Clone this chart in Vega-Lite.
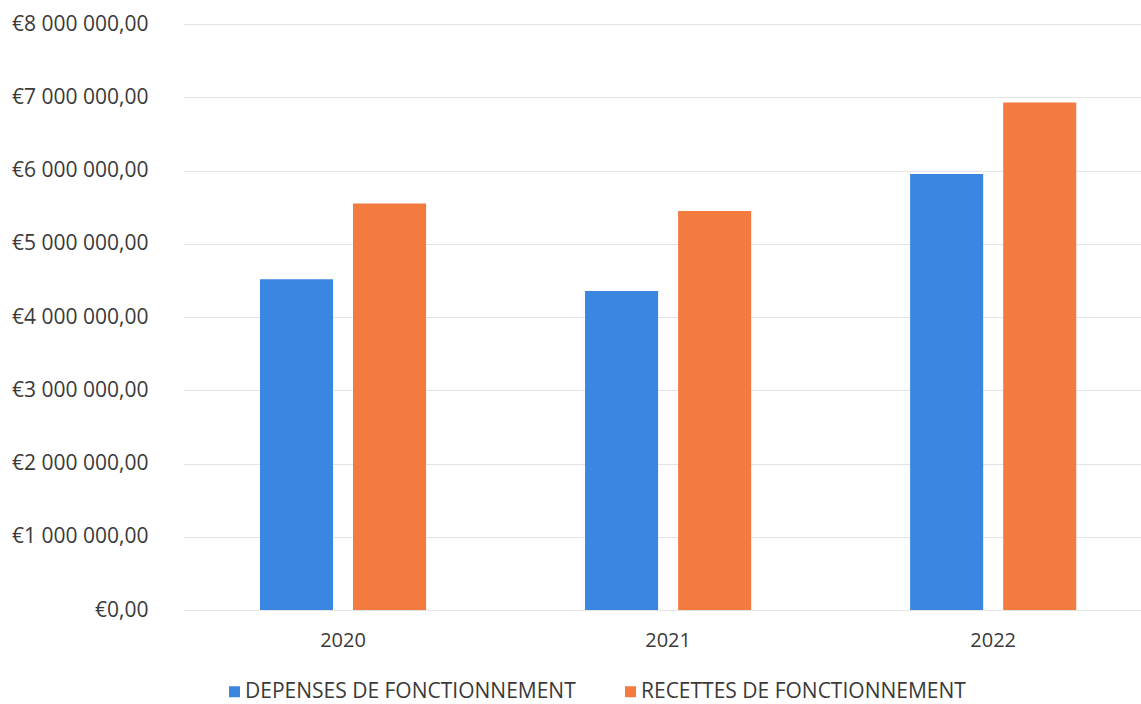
{
  "$schema": "https://vega.github.io/schema/vega-lite/v6.json",
  "width": 958,
  "height": 586,
  "autosize": {"type": "none"},
  "padding": {"left": 183, "top": 24, "right": 0, "bottom": 94},
  "background": "#ffffff",
  "data": {
    "values": [
      {"annee": "2020", "serie": "DEPENSES DE FONCTIONNEMENT", "montant": 4515000},
      {"annee": "2020", "serie": "RECETTES DE FONCTIONNEMENT", "montant": 5550000},
      {"annee": "2021", "serie": "DEPENSES DE FONCTIONNEMENT", "montant": 4355000},
      {"annee": "2021", "serie": "RECETTES DE FONCTIONNEMENT", "montant": 5447000},
      {"annee": "2022", "serie": "DEPENSES DE FONCTIONNEMENT", "montant": 5952000},
      {"annee": "2022", "serie": "RECETTES DE FONCTIONNEMENT", "montant": 6930000}
    ]
  },
  "mark": {"type": "bar"},
  "encoding": {
    "x": {
      "field": "annee",
      "type": "nominal",
      "scale": {"paddingInner": 0.489, "paddingOuter": 0.218, "align": 0.543},
      "axis": {
        "title": null,
        "labelAngle": 0,
        "domain": false,
        "ticks": false,
        "labelPadding": 20,
        "grid": false
      }
    },
    "xOffset": {
      "field": "serie",
      "type": "nominal",
      "scale": {"paddingInner": 0.215, "paddingOuter": 0}
    },
    "y": {
      "field": "montant",
      "type": "quantitative",
      "scale": {"domain": [0, 8000000], "nice": false},
      "axis": {
        "title": null,
        "format": "$,.2f",
        "values": [0, 1000000, 2000000, 3000000, 4000000, 5000000, 6000000, 7000000, 8000000],
        "labelOverlap": false,
        "labelFontSize": 21,
        "domain": false,
        "ticks": false,
        "labelPadding": 35,
        "grid": true,
        "gridColor": "#e4e4e4",
        "gridWidth": 1
      }
    },
    "color": {
      "field": "serie",
      "type": "nominal",
      "scale": {
        "domain": ["DEPENSES DE FONCTIONNEMENT", "RECETTES DE FONCTIONNEMENT"],
        "range": ["#3b86e0", "#f47b40"]
      },
      "legend": {
        "title": null,
        "orient": "none",
        "direction": "horizontal",
        "legendX": 41,
        "legendY": 657,
        "symbolType": "square",
        "symbolSize": 121,
        "symbolStrokeWidth": 0,
        "labelOffset": 0,
        "labelLimit": 0,
        "columnPadding": 44,
        "labelFontSize": 21
      }
    }
  },
  "config": {
    "locale": {
      "number": {
        "decimal": ",",
        "thousands": " ",
        "grouping": [3],
        "currency": ["€", ""]
      }
    },
    "view": {"stroke": null},
    "font": "Open Sans",
    "axis": {
      "labelFont": "Open Sans",
      "labelFontSize": 20,
      "labelColor": "#3a3a3a"
    },
    "legend": {
      "labelFont": "Open Sans",
      "labelColor": "#3a3a3a"
    }
  }
}
